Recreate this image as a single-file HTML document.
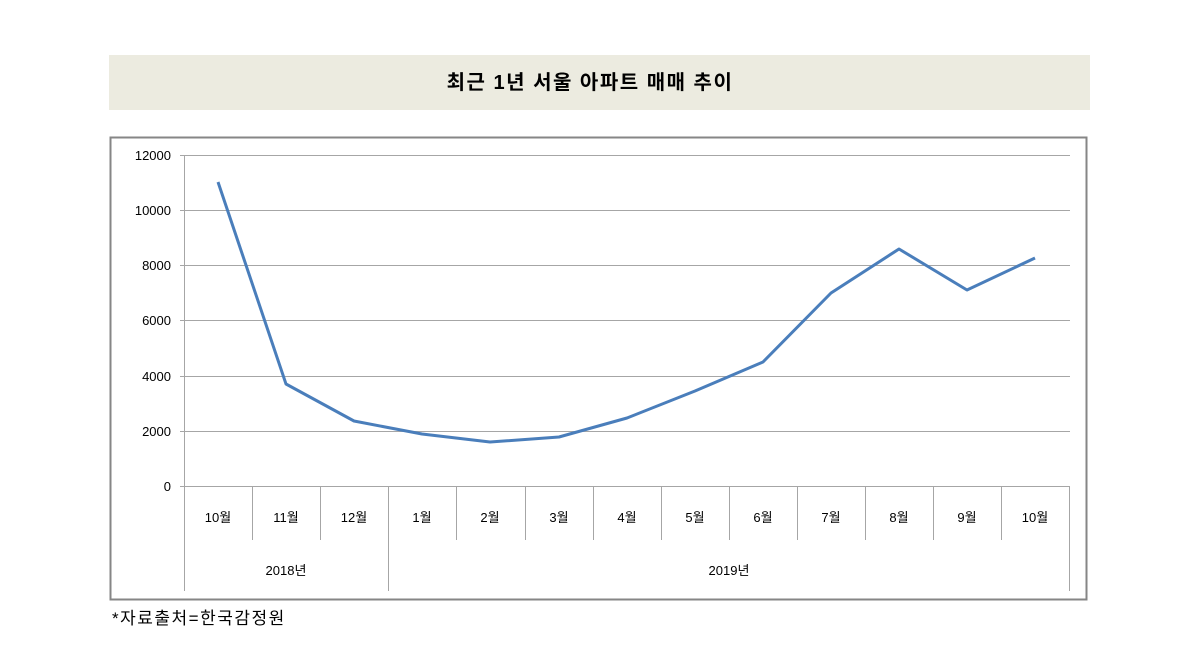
<!DOCTYPE html>
<html><head><meta charset="utf-8"><style>
html,body{margin:0;padding:0;background:#fff;}
svg{display:block;}
text{font-family:"Liberation Sans","Noto Sans CJK KR",sans-serif;fill:#000;}
</style></head><body>
<svg width="1199" height="659" viewBox="0 0 1199 659" xmlns="http://www.w3.org/2000/svg">
<rect x="109" y="55" width="981" height="55" fill="#ecebe0"/>
<text x="590" y="89" font-size="20" font-weight="bold" text-anchor="middle" letter-spacing="1.5">최근 1년 서울 아파트 매매 추이</text>
<rect x="110.5" y="137.5" width="976" height="462" fill="#fff" stroke="#868686" stroke-width="2"/>
<g stroke="#a6a6a6" stroke-width="1">
<line x1="180" y1="155.5" x2="1070" y2="155.5"/>
<line x1="180" y1="210.5" x2="1070" y2="210.5"/>
<line x1="180" y1="265.5" x2="1070" y2="265.5"/>
<line x1="180" y1="320.5" x2="1070" y2="320.5"/>
<line x1="180" y1="376.5" x2="1070" y2="376.5"/>
<line x1="180" y1="431.5" x2="1070" y2="431.5"/>
<line x1="180" y1="486.5" x2="1070" y2="486.5"/>
<line x1="184.5" y1="155" x2="184.5" y2="591"/>
<line x1="252.5" y1="486" x2="252.5" y2="540"/>
<line x1="320.5" y1="486" x2="320.5" y2="540"/>
<line x1="388.5" y1="486" x2="388.5" y2="591"/>
<line x1="456.5" y1="486" x2="456.5" y2="540"/>
<line x1="525.5" y1="486" x2="525.5" y2="540"/>
<line x1="593.5" y1="486" x2="593.5" y2="540"/>
<line x1="661.5" y1="486" x2="661.5" y2="540"/>
<line x1="729.5" y1="486" x2="729.5" y2="540"/>
<line x1="797.5" y1="486" x2="797.5" y2="540"/>
<line x1="865.5" y1="486" x2="865.5" y2="540"/>
<line x1="933.5" y1="486" x2="933.5" y2="540"/>
<line x1="1001.5" y1="486" x2="1001.5" y2="540"/>
<line x1="1069.5" y1="486" x2="1069.5" y2="591"/>
</g>
<g font-size="13" text-anchor="end">
<text x="171" y="160">12000</text>
<text x="171" y="215">10000</text>
<text x="171" y="270">8000</text>
<text x="171" y="325">6000</text>
<text x="171" y="381">4000</text>
<text x="171" y="436">2000</text>
<text x="171" y="491">0</text>
</g>
<g font-size="13" text-anchor="middle">
<text x="218" y="522">10월</text>
<text x="286" y="522">11월</text>
<text x="354" y="522">12월</text>
<text x="422" y="522">1월</text>
<text x="490" y="522">2월</text>
<text x="559" y="522">3월</text>
<text x="627" y="522">4월</text>
<text x="695" y="522">5월</text>
<text x="763" y="522">6월</text>
<text x="831" y="522">7월</text>
<text x="899" y="522">8월</text>
<text x="967" y="522">9월</text>
<text x="1035" y="522">10월</text>
<text x="286" y="575">2018년</text>
<text x="729" y="575">2019년</text>
</g>
<polyline fill="none" stroke="#4a7ebb" stroke-width="3" stroke-linejoin="round"
points="218,182 286,384 354,421 422,434 490,442 559,437 627,418 695,391 763,362 831,293 899,249 967,290 1035,258"/>
<text x="112" y="624" font-size="17" letter-spacing="1.5">*자료출처=한국감정원</text>
</svg>
</body></html>
